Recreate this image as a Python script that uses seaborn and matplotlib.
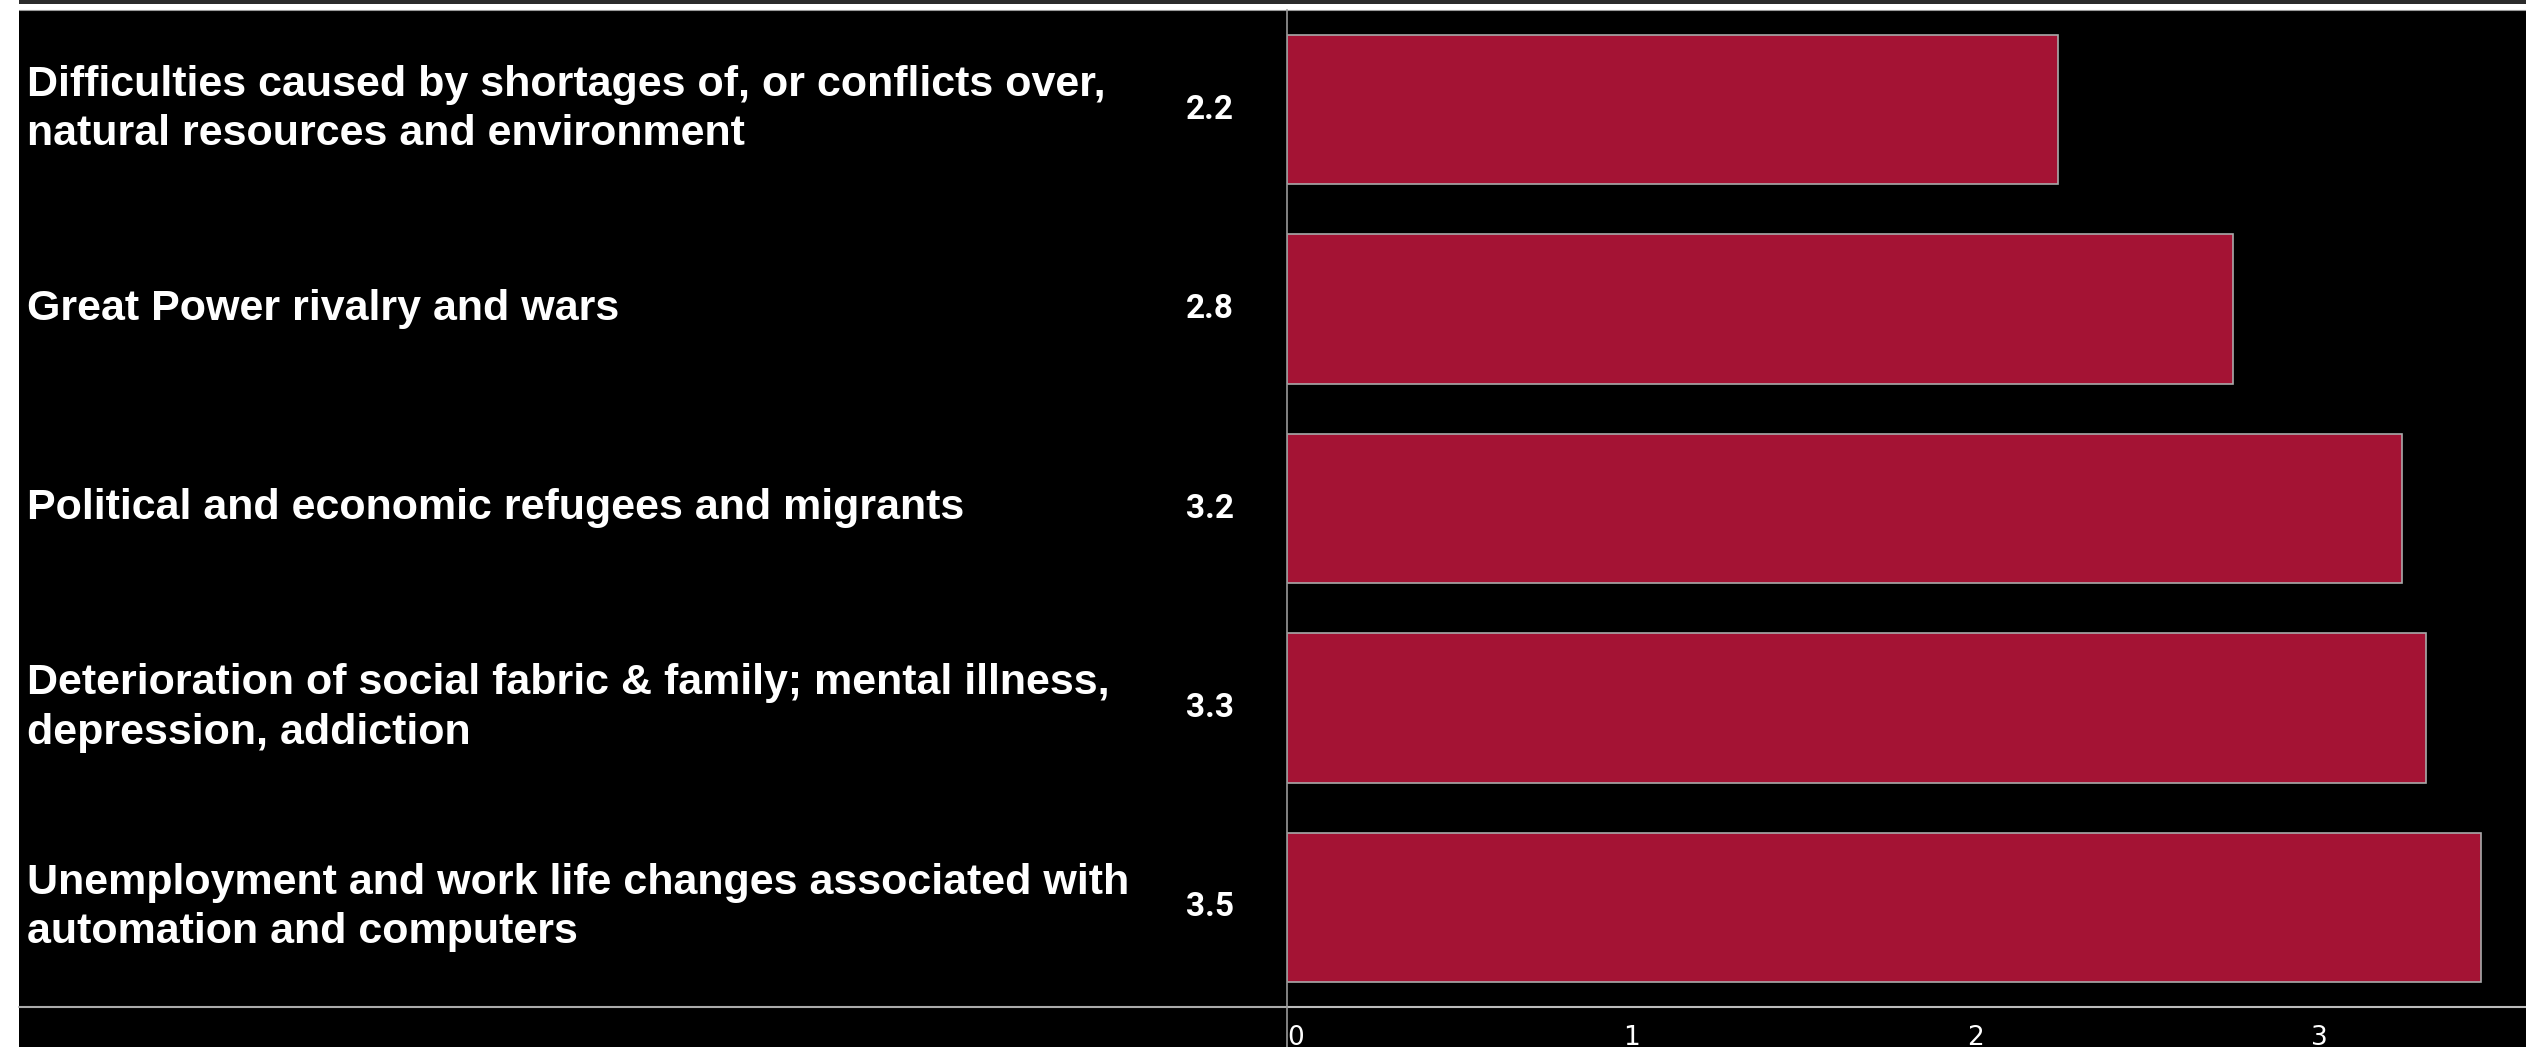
import matplotlib
matplotlib.use("Agg")
import matplotlib.pyplot as plt
import matplotlib.transforms as mtransforms
from matplotlib.lines import Line2D
from matplotlib.patches import Rectangle
import seaborn as sns
import pandas as pd

# data
categories = [
    "Difficulties caused by shortages of, or conflicts over,\nnatural resources and environment",
    "Great Power rivalry and wars",
    "Political and economic refugees and migrants",
    "Deterioration of social fabric & family; mental illness,\ndepression, addiction",
    "Unemployment and work life changes associated with\nautomation and computers",
]
scores = [2.24, 2.75, 3.24, 3.31, 3.47]
score_labels = ["2.2", "2.8", "3.2", "3.3", "3.5"]
x_ticks = [0, 1, 2, 3]

df = pd.DataFrame({"category": categories, "score": scores})

W, H = 2526, 1047
sns.set_style("white")
fig = plt.figure(figsize=(W / 100, H / 100), dpi=100, facecolor="white")

# black panel + top strip (page background)
fig.patches.append(Rectangle((19 / W, 0), 1, (H - 10) / H, transform=fig.transFigure,
                             facecolor="black", edgecolor="none", zorder=-10))
fig.patches.append(Rectangle((19 / W, (H - 4) / H), 1, 4 / H, transform=fig.transFigure,
                             facecolor="#2b2b2b", edgecolor="none", zorder=-10))
fig.lines.append(Line2D([19 / W, 1], [(H - 10) / H] * 2, transform=fig.transFigure,
                        color="#9a9a9a", lw=0.8))

ax = fig.add_axes([1287 / W, 40 / H, (W - 1287) / W, (1007 - 10) / H])
ax.set_facecolor("black")

sns.barplot(data=df, x="score", y="category", orient="h", width=0.75,
            color="#A41334", saturation=1, edgecolor="#aaaaaa", linewidth=1.2, ax=ax)

ax.set_xlim(0, 3.6)
ax.set_ylim(4.5, -0.5)
ax.set_xticks(x_ticks)
ax.set_xticklabels([str(t) for t in x_ticks], color="white", fontsize=19,
                   family="DejaVu Sans")
ax.get_xticklabels()[0].set_ha("left")
ax.tick_params(axis="x", colors="white", length=5, width=1, pad=8, labelcolor="white")
ax.set_yticks([])
ax.set_xlabel("")
ax.set_ylabel("")

for side in ["top", "right"]:
    ax.spines[side].set_visible(False)
ax.spines["left"].set_color("#999999")
ax.spines["bottom"].set_color("#bbbbbb")
ax.spines["left"].set_linewidth(1.2)
ax.spines["bottom"].set_linewidth(1.5)

# bottom rule across the left panel and the spine running down
fig.lines.append(Line2D([19 / W, 1287 / W], [40 / H] * 2, transform=fig.transFigure,
                        color="#aaaaaa", lw=1.5))
fig.lines.append(Line2D([1287 / W] * 2, [0, 40 / H], transform=fig.transFigure,
                        color="#999999", lw=1.2))

# category labels and values
trans = mtransforms.blended_transform_factory(fig.transFigure, ax.transData)
for i, (cat, lab) in enumerate(zip(categories, score_labels)):
    ax.text(27 / W, i, cat, transform=trans, ha="left", va="center",
            color="white", fontsize=31, fontweight="bold",
            family="Liberation Sans", linespacing=1.3)
    ax.annotate(lab, xy=(0, i), xytext=(-77, 0), textcoords="offset pixels",
                ha="center", va="center", color="white", fontsize=24,
                fontweight="bold", family="Roboto", annotation_clip=False)

fig.savefig("out.png", dpi=100, facecolor=fig.get_facecolor())
